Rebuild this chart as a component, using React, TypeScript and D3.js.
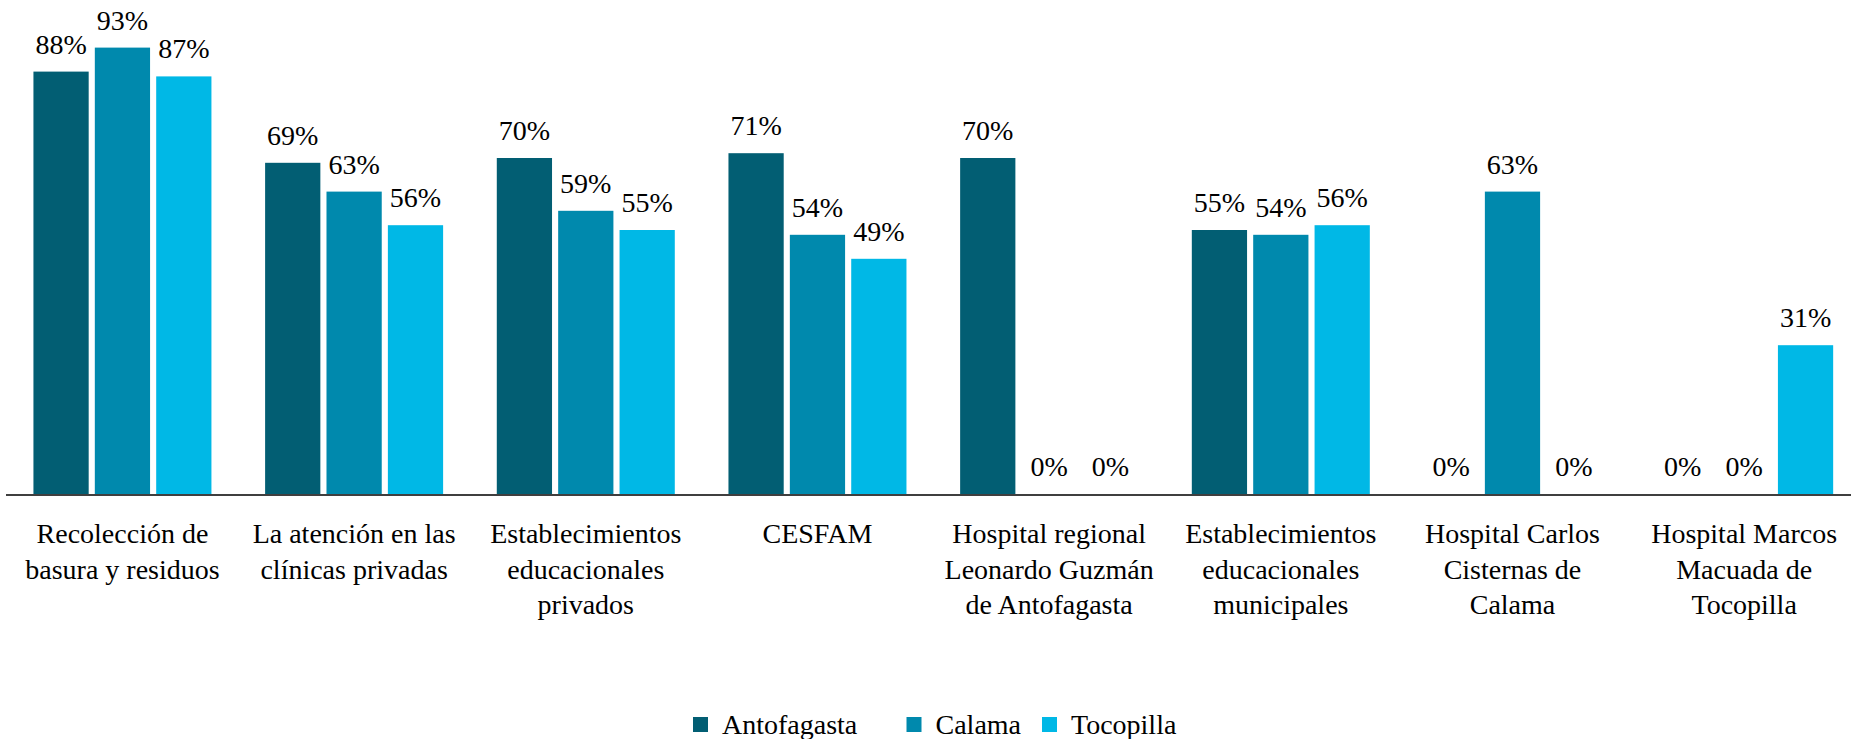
import React from "react";
import * as d3 from "d3";

const categories: string[][] = [
  ["Recolección de", "basura y residuos"],
  ["La atención en las", "clínicas privadas"],
  ["Establecimientos", "educacionales", "privados"],
  ["CESFAM"],
  ["Hospital regional", "Leonardo Guzmán", "de Antofagasta"],
  ["Establecimientos", "educacionales", "municipales"],
  ["Hospital Carlos", "Cisternas de", "Calama"],
  ["Hospital Marcos", "Macuada de", "Tocopilla"],
];

const seriesNames = ["Antofagasta", "Calama", "Tocopilla"];
const antofagasta = [88, 69, 70, 71, 70, 55, 0, 0];
const calama = [93, 63, 59, 54, 0, 54, 63, 0];
const tocopilla = [87, 56, 55, 49, 0, 56, 0, 31];
const seriesValues = [antofagasta, calama, tocopilla];
const colors = ["#025E73", "#0089AD", "#00B8E6"];

const W = 1851;
const H = 739;
const FONT = "'Liberation Serif', serif";

export default function App() {
  const baseY = 494;
  const y = d3.scaleLinear().domain([0, 100]).range([baseY, 14]);
  const keys = categories.map((_, i) => String(i));
  const x0 = d3.scaleBand<string>().domain(keys).range([6.6, 1860]).paddingInner(0).paddingOuter(0);
  const groupW = 178;
  const x1 = d3
    .scaleBand<string>()
    .domain(seriesNames)
    .range([0, groupW])
    .paddingInner(0.1);

  const legendX = [693, 906.5, 1042];

  return (
    <svg
      width={W}
      height={H}
      style={{ position: "absolute", left: 0, top: 0, background: "#fff" }}
      fontFamily={FONT}
    >
      {keys.map((k, ci) => {
        const gx = (x0(k) as number) + (x0.bandwidth() - groupW) / 2;
        return (
          <g key={k}>
            {seriesNames.map((s, si) => {
              const v = seriesValues[si][ci];
              const bx = gx + (x1(s) as number);
              const bw = x1.bandwidth();
              const top = y(v);
              return (
                <g key={s}>
                  {v > 0 && (
                    <rect x={bx} y={top} width={bw} height={baseY - top} fill={colors[si]} />
                  )}
                  <text
                    x={bx + bw / 2}
                    y={top - 18}
                    textAnchor="middle"
                    fontSize={28}
                    fill="#000"
                  >
                    {v}%
                  </text>
                </g>
              );
            })}
            {categories[ci].map((line, li) => (
              <text
                key={li}
                x={(x0(k) as number) + x0.bandwidth() / 2}
                y={543 + li * 35.5}
                textAnchor="middle"
                fontSize={28}
                fill="#000"
              >
                {line}
              </text>
            ))}
          </g>
        );
      })}
      <line x1={6} x2={W} y1={baseY + 1} y2={baseY + 1} stroke="#3f3f3f" strokeWidth={2} />
      {seriesNames.map((s, si) => (
        <g key={s}>
          <rect x={legendX[si]} y={717} width={15} height={15} fill={colors[si]} />
          <text x={legendX[si] + 29} y={734} fontSize={28} fill="#000">
            {s}
          </text>
        </g>
      ))}
    </svg>
  );
}
